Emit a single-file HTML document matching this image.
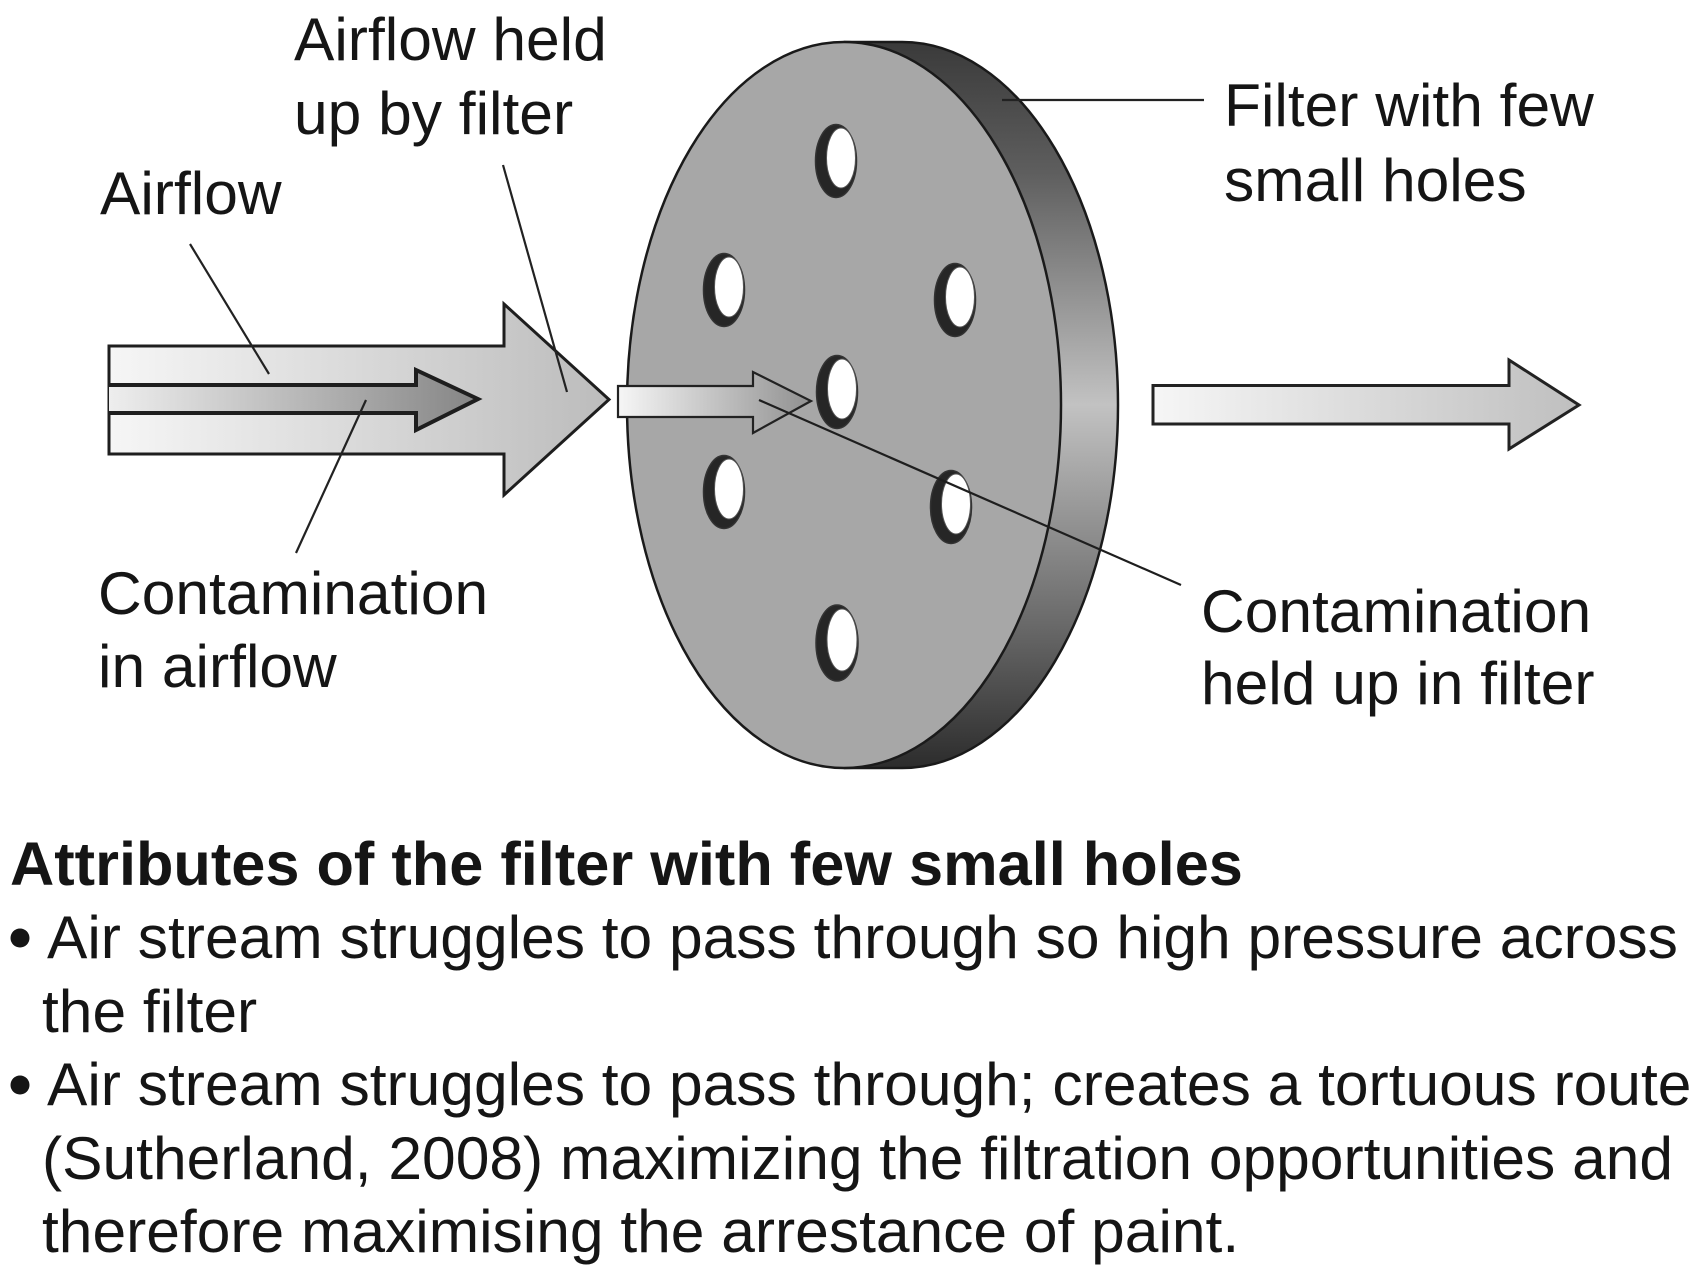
<!DOCTYPE html>
<html>
<head>
<meta charset="utf-8">
<style>
html,body{margin:0;padding:0;background:#fff;}
svg{display:block;}
text{font-family:"Liberation Sans",Arial,sans-serif;fill:#151515;}
</style>
</head>
<body>
<svg width="1700" height="1277" viewBox="0 0 1700 1277" xmlns="http://www.w3.org/2000/svg">
<defs>
  <linearGradient id="gBig" gradientUnits="userSpaceOnUse" x1="109" y1="0" x2="609" y2="0">
    <stop offset="0" stop-color="#f6f6f6"/>
    <stop offset="1" stop-color="#bcbcbc"/>
  </linearGradient>
  <linearGradient id="gInner" gradientUnits="userSpaceOnUse" x1="109" y1="0" x2="478" y2="0">
    <stop offset="0" stop-color="#eeeeee"/>
    <stop offset="1" stop-color="#858585"/>
  </linearGradient>
  <linearGradient id="gThru" gradientUnits="userSpaceOnUse" x1="618" y1="0" x2="811" y2="0">
    <stop offset="0" stop-color="#f6f6f6"/>
    <stop offset="1" stop-color="#909090"/>
  </linearGradient>
  <linearGradient id="gRight" gradientUnits="userSpaceOnUse" x1="1153" y1="0" x2="1579" y2="0">
    <stop offset="0" stop-color="#f6f6f6"/>
    <stop offset="1" stop-color="#bfbfbf"/>
  </linearGradient>
  <linearGradient id="gRim" gradientUnits="userSpaceOnUse" x1="0" y1="42" x2="0" y2="768">
    <stop offset="0" stop-color="#3a3a3a"/>
    <stop offset="0.18" stop-color="#5e5e5e"/>
    <stop offset="0.5" stop-color="#c2c2c2"/>
    <stop offset="0.8" stop-color="#6a6a6a"/>
    <stop offset="1" stop-color="#2c2c2c"/>
  </linearGradient>
</defs>

<!-- Big airflow arrow -->
<path d="M109,346 L504,346 L504,304 L609,399.5 L504,495 L504,454 L109,454 Z" fill="url(#gBig)" stroke="#1e1e1e" stroke-width="3" stroke-linejoin="miter"/>
<!-- Inner contamination arrow -->
<path d="M109,385 L416,385 L416,370 L478,399 L416,430 L416,413 L109,413" fill="url(#gInner)" stroke="#1e1e1e" stroke-width="4"/>

<!-- leader lines left -->
<line x1="190" y1="244" x2="269" y2="374" stroke="#222" stroke-width="2.2"/>
<line x1="296" y1="553" x2="366" y2="400" stroke="#222" stroke-width="2.2"/>
<line x1="503" y1="165" x2="567" y2="392" stroke="#222" stroke-width="2.2"/>

<!-- Filter disc: rim -->
<path d="M845,42 L902,42 A216,363 0 0 1 902,768 L845,768 Z" fill="url(#gRim)" stroke="#1a1a1a" stroke-width="2.5"/>
<!-- front face -->
<ellipse cx="844" cy="405" rx="217" ry="363" fill="#a7a7a7" stroke="#1a1a1a" stroke-width="2.5"/>

<!-- holes -->
<g stroke="#333" stroke-width="1.5">
  <g transform="translate(836,161)"><ellipse cx="0" cy="0" rx="20.5" ry="36.5" fill="#262626"/><ellipse cx="5" cy="-3" rx="14.5" ry="30" fill="#fff" stroke="#555" stroke-width="1"/></g>
  <g transform="translate(724,290)"><ellipse cx="0" cy="0" rx="20.5" ry="36.5" fill="#262626"/><ellipse cx="5" cy="-3" rx="14.5" ry="30" fill="#fff" stroke="#555" stroke-width="1"/></g>
  <g transform="translate(955,300)"><ellipse cx="0" cy="0" rx="20.5" ry="36.5" fill="#262626"/><ellipse cx="5" cy="-3" rx="14.5" ry="30" fill="#fff" stroke="#555" stroke-width="1"/></g>
  <g transform="translate(837,392)"><ellipse cx="0" cy="0" rx="20.5" ry="36.5" fill="#262626"/><ellipse cx="5" cy="-3" rx="14.5" ry="30" fill="#fff" stroke="#555" stroke-width="1"/></g>
  <g transform="translate(724,492)"><ellipse cx="0" cy="0" rx="20.5" ry="36.5" fill="#262626"/><ellipse cx="5" cy="-3" rx="14.5" ry="30" fill="#fff" stroke="#555" stroke-width="1"/></g>
  <g transform="translate(951,507)"><ellipse cx="0" cy="0" rx="20.5" ry="36.5" fill="#262626"/><ellipse cx="5" cy="-3" rx="14.5" ry="30" fill="#fff" stroke="#555" stroke-width="1"/></g>
  <g transform="translate(837,643)"><ellipse cx="0" cy="0" rx="21" ry="38" fill="#262626"/><ellipse cx="5" cy="-3" rx="15" ry="31" fill="#fff" stroke="#555" stroke-width="1"/></g>
</g>

<!-- small arrow through filter -->
<path d="M618,386 L753,386 L753,372 L811,401 L753,433 L753,417 L618,417 Z" fill="url(#gThru)" stroke="#222" stroke-width="2.2"/>

<!-- contamination held leader -->
<line x1="759" y1="400" x2="1181" y2="585" stroke="#1e1e1e" stroke-width="2.2"/>
<!-- filter leader -->
<line x1="1002" y1="100" x2="1204" y2="100" stroke="#222" stroke-width="2.2"/>

<!-- right arrow -->
<path d="M1153,385.5 L1509,385.5 L1509,360 L1579,405 L1509,449 L1509,424 L1153,424 Z" fill="url(#gRight)" stroke="#222" stroke-width="3"/>

<!-- labels -->
<g font-size="60.5">
  <text x="294" y="60">Airflow held</text>
  <text x="294" y="134">up by filter</text>
  <text x="100" y="214">Airflow</text>
  <text x="1224" y="126">Filter with few</text>
  <text x="1224" y="201">small holes</text>
  <text x="98" y="614">Contamination</text>
  <text x="98" y="687">in airflow</text>
  <text x="1201" y="632">Contamination</text>
  <text x="1201" y="704">held up in filter</text>
</g>

<!-- attributes -->
<text x="10" y="885" font-size="61.3" font-weight="bold">Attributes of the filter with few small holes</text>
<circle cx="20" cy="938" r="9.5" fill="#151515"/>
<circle cx="20" cy="1085" r="9.5" fill="#151515"/>
<g font-size="60.5">
  <text x="47" y="958">Air stream struggles to pass through so high pressure across</text>
  <text x="42" y="1032">the filter</text>
  <text x="47" y="1105">Air stream struggles to pass through; creates a tortuous route</text>
  <text x="42" y="1179">(Sutherland, 2008) maximizing the filtration opportunities and</text>
  <text x="42" y="1252">therefore maximising the arrestance of paint.</text>
</g>
</svg>
</body>
</html>
